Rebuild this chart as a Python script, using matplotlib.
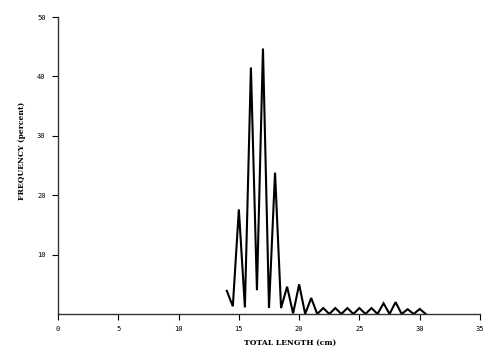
import matplotlib
matplotlib.use("Agg")
import matplotlib.pyplot as plt

length_cm = [14, 14.5, 15, 15.5, 16, 16.5, 17, 17.5, 18, 18.5, 19, 19.5, 20, 20.5,
             21, 21.5, 22, 22.5, 23, 23.5, 24, 24.5, 25, 25.5, 26, 26.5, 27, 27.5,
             28, 28.5, 29, 29.5, 30, 30.5]
frequency_pct = [3.9, 1.3, 17.6, 1.1, 41.5, 4.0, 44.7, 1.0, 23.8, 1.0, 4.6, 0.1, 5.0, 0.0,
                 2.7, 0.0, 1.0, 0.0, 1.0, 0.0, 1.0, 0.0, 1.0, 0.0, 1.0, 0.0, 1.8, 0.0,
                 2.0, 0.0, 0.8, 0.0, 0.85, 0.0]
x_ticks = [0, 5, 10, 15, 20, 25, 30, 35]
y_ticks = [10, 20, 30, 40, 50]

fig = plt.figure(figsize=(5, 3.55), dpi=100)
ax = fig.add_axes([0.116, 0.1155, 0.844, 0.8365])
ax.plot(length_cm, frequency_pct, color="black", lw=1.5, solid_joinstyle="miter")
ax.set_xlim(0, 35)
ax.set_ylim(0, 50)
for s in ["top", "right"]:
    ax.spines[s].set_visible(False)
for s in ["left", "bottom"]:
    ax.spines[s].set_linewidth(1.0)
    ax.spines[s].set_color("#333333")
ax.set_xticks(x_ticks)
ax.set_yticks(y_ticks)
ax.tick_params(direction="out", length=4, width=0.8, labelsize=5, pad=5)
for lab in ax.get_xticklabels() + ax.get_yticklabels():
    lab.set_family("DejaVu Sans Mono")
ax.set_xlabel("TOTAL LENGTH (cm)", family="DejaVu Serif", fontsize=5.5, fontweight="bold")
ax.xaxis.set_label_coords(0.55, -0.085)
ax.set_ylabel("FREQUENCY (percent)", family="DejaVu Serif", fontsize=5.5, fontweight="bold")
ax.yaxis.set_label_coords(-0.075, 0.55)
fig.savefig("out.png", dpi=100)
